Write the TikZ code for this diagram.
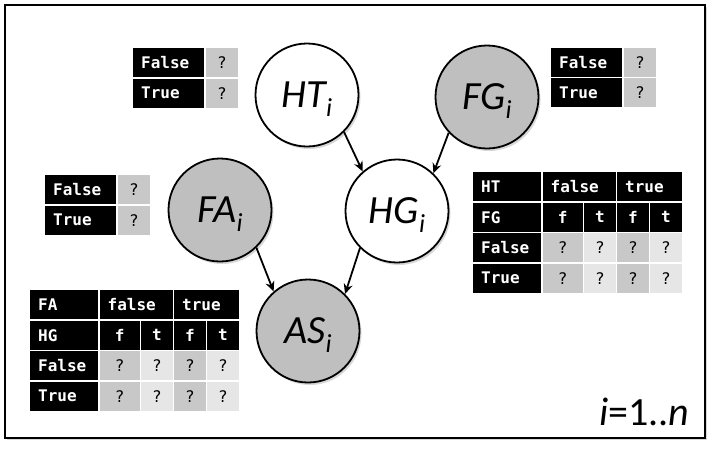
\documentclass[tikz,border=0pt]{standalone}
\usepackage{fontspec}
\setmainfont{Carlito}
\newfontfamily\cellfont{DejaVu Sans Mono}
\usetikzlibrary{arrows.meta,shadows}
\definecolor{nodegrey}{HTML}{BFBFBF}
\definecolor{cellgrey}{HTML}{C8C8C8}
\definecolor{celllight}{HTML}{E6E6E6}
\tikzset{
  frame/.style ={draw=black, fill=white, line width=2.5pt,
                 drop shadow={shadow xshift=1.5pt, shadow yshift=-2pt, opacity=0.3}},
  var/.style   ={circle, draw=black, fill=white, line width=1.8pt, minimum size=103pt,
                 inner sep=0pt, font=\fontsize{40}{44}\selectfont\itshape,
                 drop shadow={shadow xshift=2pt, shadow yshift=-2.5pt, opacity=0.3}},
  obs/.style   ={var, fill=nodegrey},
  dep/.style   ={draw=black, line width=1.8pt, -{Stealth[length=10pt,width=9pt]}},
  cell/.style  ={rectangle, anchor=north west, inner sep=0pt, minimum height=29pt,
                 font=\fontsize{16}{19}\selectfont\cellfont},
  lab/.style   ={cell, fill=black, text=white, font=\fontsize{16}{19}\selectfont\cellfont\bfseries,
                 inner xsep=8pt, align=left, text width=55pt},
  hd/.style    ={cell, fill=black, text=white, font=\fontsize{16}{19}\selectfont\cellfont\bfseries},
  qcell/.style ={cell, text=black},
}
\newcommand{\vsub}[1]{\smash{\raisebox{-9pt}{\fontsize{26}{28}\selectfont #1}}}
% prior table: name, x, y
\newcommand{\prior}[3]{%
  \begin{scope}[shift={(#2,#3)}]
    \node[lab] (#1-f) at (0,0) {False};
    \node[qcell, fill=cellgrey, minimum width=32.5pt] (#1-fq) at (72.5,0) {?};
    \node[lab] (#1-t) at (0,30.5) {True};
    \node[qcell, fill=cellgrey, minimum width=32.5pt] (#1-tq) at (72.5,30.5) {?};
  \end{scope}%
}
% conditional table: name, x, y, first parent, second parent
\newcommand{\cpt}[5]{%
  \begin{scope}[shift={(#2,#3)}]
    \node[lab, text width=52pt]   (#1-a)  at (0,0)      {#4};
    \node[lab, text width=57pt]   (#1-af) at (69.5,0)   {false};
    \node[lab, text width=48.5pt] (#1-at) at (144,0)    {true};
    \node[lab, text width=52pt]   (#1-b)  at (0,30.5)   {#5};
    \node[hd, minimum width=40pt]   (#1-b1) at (69.5,30.5) {f};
    \node[hd, minimum width=31.5pt] (#1-b2) at (111,30.5)  {t};
    \node[hd, minimum width=31.5pt] (#1-b3) at (144,30.5)  {f};
    \node[hd, minimum width=31.5pt] (#1-b4) at (177,30.5)  {t};
    \node[lab, text width=52pt]   (#1-f)  at (0,61)     {False};
    \node[lab, text width=52pt]   (#1-t)  at (0,91.5)   {True};
    \foreach \c/\x/\w/\s in {1/69.5/40pt/cellgrey, 2/111/31.5pt/celllight,
                             3/144/31.5pt/cellgrey, 4/177/31.5pt/celllight}{
      \node[qcell, fill=\s, minimum width=\w] (#1-f\c) at (\x,61)   {?};
      \node[qcell, fill=\s, minimum width=\w] (#1-t\c) at (\x,91.5) {?};
    }
  \end{scope}%
}

\begin{document}
\begin{tikzpicture}[x=1pt, y=-1pt]
\useasboundingbox (0,0) rectangle (712,448);
\fill[white] (0,0) rectangle (712,448);
\draw[frame] (5,5) rectangle (705,438);

% ---------------- variables ----------------
\node[var] (ht) at (307, 95) {HT\vsub{i}};
\node[obs] (fg) at (487, 97) {FG\vsub{i}};
\node[obs] (fa) at (220,210) {FA\vsub{i}};
\node[var] (hg) at (397,211) {HG\vsub{i}};
\node[obs] (as) at (308,331) {AS\vsub{i}};

% ---------------- dependencies ----------------
\draw[dep] (ht.-45) -- (hg.131);
\draw[dep] (fg.223) -- (hg.46);
\draw[dep] (fa.-46) -- (as.131);
\draw[dep] (hg.225) -- (as.45);

% ---------------- tables ----------------
\prior{htp}{133}{48}
\prior{fgp}{551}{47.5}
\prior{fap}{45}{175}
\cpt{hgp}{473}{172}{HT}{FG}
\cpt{asp}{30}{290}{FA}{HG}

% ---------------- plate index ----------------
\node[anchor=base east, font=\fontsize{40}{44}\selectfont] (idx) at (693,425)
      {\textit{i}=1..\textit{n}};

\end{tikzpicture}
\end{document}
